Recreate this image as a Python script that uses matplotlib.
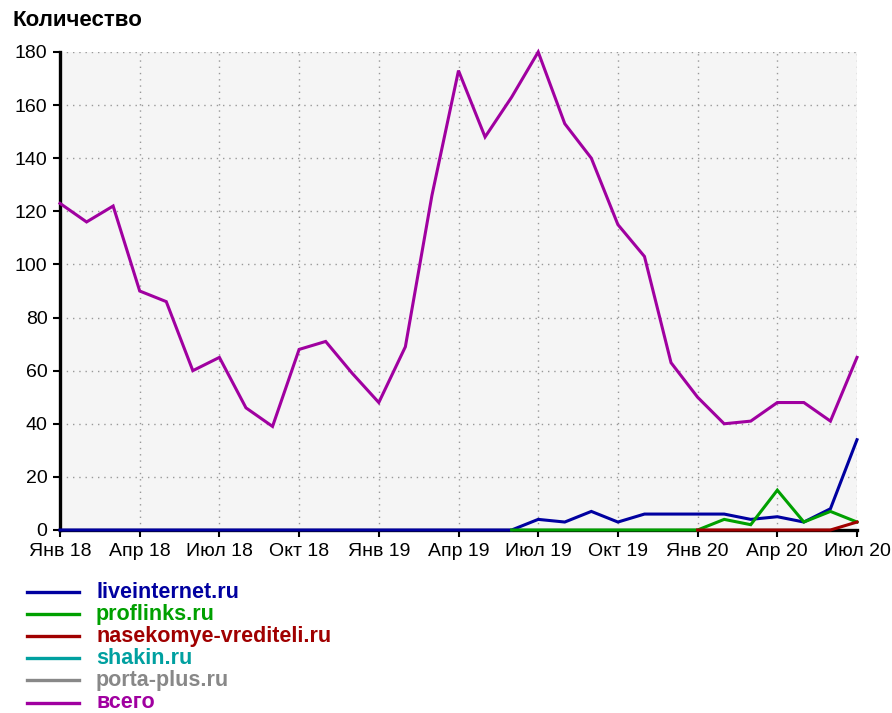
import matplotlib
matplotlib.use('Agg')
import matplotlib.pyplot as plt
from matplotlib.lines import Line2D
import numpy as np

plt.rcParams['font.family'] = ['Liberation Sans', 'DejaVu Sans']

# месяцы янв 2018 - июл 2020
months = ['Янв 18', 'Фев 18', 'Мар 18', 'Апр 18', 'Май 18', 'Июн 18', 'Июл 18', 'Авг 18', 'Сен 18',
          'Окт 18', 'Ноя 18', 'Дек 18', 'Янв 19', 'Фев 19', 'Мар 19', 'Апр 19', 'Май 19', 'Июн 19',
          'Июл 19', 'Авг 19', 'Сен 19', 'Окт 19', 'Ноя 19', 'Дек 19', 'Янв 20', 'Фев 20', 'Мар 20',
          'Апр 20', 'Май 20', 'Июн 20', 'Июл 20']
tick_labels = ['Янв 18', 'Апр 18', 'Июл 18', 'Окт 18', 'Янв 19', 'Апр 19',
               'Июл 19', 'Окт 19', 'Янв 20', 'Апр 20', 'Июл 20']

vsego = [123, 116, 122, 90, 86, 60, 65, 46, 39, 68, 71, 59, 48, 69, 126, 173, 148, 163,
         180, 153, 140, 115, 103, 63, 50, 40, 41, 48, 48, 41, 65]
# liveinternet.ru - с янв 18
liveinternet = [0, 0, 0, 0, 0, 0, 0, 0, 0, 0, 0, 0, 0, 0, 0, 0, 0, 0,
                4, 3, 7, 3, 6, 6, 6, 6, 4, 5, 3, 8, 34]
# proflinks.ru - с июн 19
proflinks = [0, 0, 0, 0, 0, 0, 0, 0, 4, 2, 15, 3, 7, 3]
# nasekomye-vrediteli.ru - с янв 20
nasekomye = [0, 0, 0, 0, 0, 0, 3]
shakin = []
porta_plus = []

names = ['liveinternet.ru', 'proflinks.ru', 'nasekomye-vrediteli.ru', 'shakin.ru', 'porta-plus.ru', 'всего']
colors = ['#0000a0', '#00a000', '#a00000', '#00a0a0', '#888888', '#a000a0']
series = [liveinternet, proflinks, nasekomye, shakin, porta_plus, vsego]

fig = plt.figure(figsize=(8.92, 7.13), dpi=100)
ax = fig.add_axes([60/892, 1-530/713, 797/892, 478/713])
ax.set_facecolor('#f5f5f5')

n = len(months)
for s, c in zip(series, colors):
    if len(s) == 0:
        continue
    x = np.arange(n - len(s), n)
    ax.plot(x, s, color=c, lw=2.2, solid_joinstyle='miter', clip_on=False, zorder=3)

ax.set_xlim(0, n - 1)
ax.set_ylim(0, 180)
ax.set_yticks(range(0, 181, 20))
ax.set_xticks([months.index(t) for t in tick_labels])
ax.set_xticklabels(tick_labels)

ax.grid(True, color='#999999', linestyle=(0, (1, 3.5)), linewidth=1.0)
for sp in ['top', 'right']:
    ax.spines[sp].set_visible(False)
for sp in ['left', 'bottom']:
    ax.spines[sp].set_linewidth(2.4)
    ax.spines[sp].set_color('black')
    ax.spines[sp].set_zorder(2)
ax.tick_params(direction='out', length=5, width=1.5, labelsize=14, colors='black', pad=4)

fig.text(12/892, 1-20/713, 'Количество', fontsize=16, fontweight='bold', va='center', ha='left')

# легенда
for i, (nm, c) in enumerate(zip(names, colors)):
    y = 592 + i * 22.1
    fig.add_artist(Line2D([27/892, 79/892], [1-y/713, 1-y/713], color=c, lw=2.4))
    fig.text(96/892, 1-(y+6)/713, nm, color=c, fontsize=15.5, fontweight='bold', va='baseline', ha='left')

fig.savefig('out.png', dpi=100)
